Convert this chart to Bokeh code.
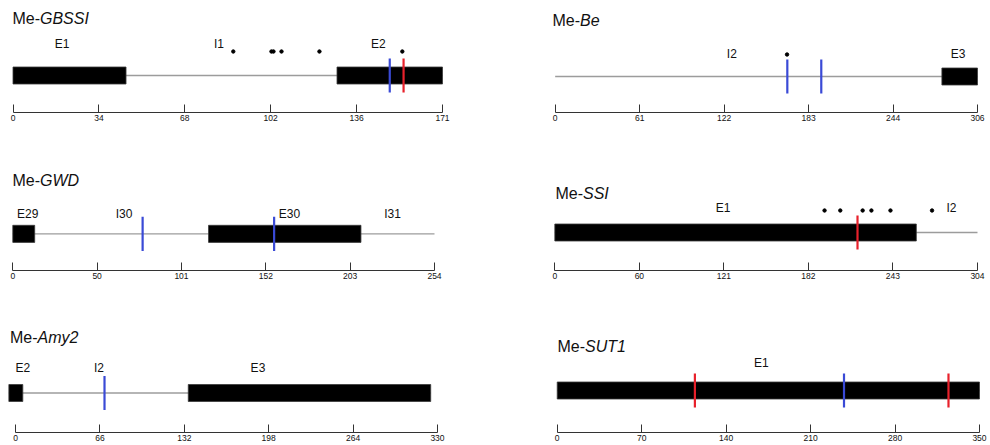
from bokeh.plotting import figure
from bokeh.models import Range1d, LinearAxis, FixedTicker, Label, ColumnDataSource
from bokeh.layouts import column, row
from bokeh.embed import file_html
from bokeh.resources import INLINE
from bokeh.core.properties import value

# ------------------------- data -------------------------
gbssi_length = 171
gbssi_span = [0, 171]
gbssi_exon_start = [0, 129]
gbssi_exon_end = [45, 171]
gbssi_blue = [150]
gbssi_red = [155.5]
gbssi_dots = [87.7, 102.9, 103.7, 106.9, 122, 155]
gbssi_labels = ["E1", "I1", "E2"]
gbssi_label_x = [19.5, 82, 145.5]
gbssi_tick_labels = ["0", "34", "68", "102", "136", "171"]

be_length = 306
be_span = [0, 306]
be_exon_start = [280.2]
be_exon_end = [306]
be_blue = [168.2, 192.8]
be_red = []
be_dots = [168]
be_labels = ["I2", "E3"]
be_label_x = [128, 292]
be_tick_labels = ["0", "61", "122", "183", "244", "306"]

gwd_length = 254
gwd_span = [0, 254]
gwd_exon_start = [0, 117.9]
gwd_exon_end = [13.2, 209.7]
gwd_blue = [78.2, 157.4]
gwd_red = []
gwd_dots = []
gwd_labels = ["E29", "I30", "E30", "I31"]
gwd_label_x = [9, 67, 166.6, 228.7]
gwd_tick_labels = ["0", "50", "101", "152", "203", "254"]

ssi_length = 304
ssi_span = [0, 304]
ssi_exon_start = [0]
ssi_exon_end = [260]
ssi_blue = []
ssi_red = [217.7]
ssi_dots = [194, 205.3, 221.4, 227.7, 241.4, 271.3]
ssi_labels = ["E1", "I2"]
ssi_label_x = [121, 285.3]
ssi_tick_labels = ["0", "60", "121", "182", "243", "304"]

amy2_length = 330
amy2_span = [-5.2, 324.7]
amy2_exon_start = [-5.2, 135.1]
amy2_exon_end = [5.7, 324.7]
amy2_blue = [69.6]
amy2_red = []
amy2_dots = []
amy2_labels = ["E2", "I2", "E3"]
amy2_label_x = [5.7, 65.2, 189.6]
amy2_tick_labels = ["0", "66", "132", "198", "264", "330"]

sut1_length = 350
sut1_span = [0, 350]
sut1_exon_start = [0]
sut1_exon_end = [350]
sut1_blue = [237.7]
sut1_red = [114.1, 324.3]
sut1_dots = []
sut1_labels = ["E1"]
sut1_label_x = [169.2]
sut1_tick_labels = ["0", "70", "140", "210", "280", "350"]

# ------------------------- layout (screen px) -------------------------
FONT = "Liberation Sans"
BLUE = "#3a4ad6"
RED = "#e8212b"
TRACK = "#9c9c9c"

layout_cfg = {
    "GBSSI": dict(fig_left=0, fig_top=0, w=508, h=150, ax0=12.5, ax1=442.0,
                  title_x=12, title_y=18, label_y=43, dot_y=51, track_y=75, axis_y=112),
    "Be": dict(fig_left=508, fig_top=0, w=482, h=150, ax0=554.7, ax1=977.3,
               title_x=552, title_y=20, label_y=53, dot_y=54, track_y=76, axis_y=112),
    "GWD": dict(fig_left=0, fig_top=150, w=508, h=148, ax0=12.3, ax1=434.5,
                title_x=12, title_y=180, label_y=213, dot_y=213, track_y=233, axis_y=269.5),
    "SSI": dict(fig_left=508, fig_top=150, w=482, h=148, ax0=554.3, ax1=976.7,
                title_x=555, title_y=193, label_y=207, dot_y=210, track_y=232, axis_y=270),
    "Amy2": dict(fig_left=0, fig_top=298, w=508, h=147, ax0=15.0, ax1=436.7,
                 title_x=9.5, title_y=337, label_y=367, dot_y=367, track_y=392.5, axis_y=432),
    "SUT1": dict(fig_left=508, fig_top=298, w=482, h=147, ax0=556.7, ax1=978.7,
                 title_x=557, title_y=346, label_y=362, dot_y=362, track_y=390, axis_y=432),
}

genes = {
    "GBSSI": (gbssi_length, gbssi_span, gbssi_exon_start, gbssi_exon_end, gbssi_blue, gbssi_red,
              gbssi_dots, gbssi_labels, gbssi_label_x, gbssi_tick_labels),
    "Be": (be_length, be_span, be_exon_start, be_exon_end, be_blue, be_red,
           be_dots, be_labels, be_label_x, be_tick_labels),
    "GWD": (gwd_length, gwd_span, gwd_exon_start, gwd_exon_end, gwd_blue, gwd_red,
            gwd_dots, gwd_labels, gwd_label_x, gwd_tick_labels),
    "SSI": (ssi_length, ssi_span, ssi_exon_start, ssi_exon_end, ssi_blue, ssi_red,
            ssi_dots, ssi_labels, ssi_label_x, ssi_tick_labels),
    "Amy2": (amy2_length, amy2_span, amy2_exon_start, amy2_exon_end, amy2_blue, amy2_red,
             amy2_dots, amy2_labels, amy2_label_x, amy2_tick_labels),
    "SUT1": (sut1_length, sut1_span, sut1_exon_start, sut1_exon_end, sut1_blue, sut1_red,
             sut1_dots, sut1_labels, sut1_label_x, sut1_tick_labels),
}

BOX_HALF = 8.5
MARK_HALF = 17


def make_panel(name):
    length, span, ex_s, ex_e, blue, red, dots, labels, label_x, tick_labels = genes[name]
    c = layout_cfg[name]
    scale = (c["ax1"] - c["ax0"]) / length
    x_start = (c["fig_left"] - c["ax0"]) / scale
    frame_right = c["ax1"] + 6
    x_end = (frame_right - c["ax0"]) / scale
    frame_w = frame_right - c["fig_left"]
    frame_h = c["axis_y"] - c["fig_top"]

    p = figure(width=c["w"], height=c["h"], output_backend="svg", toolbar_location=None,
               x_axis_type=None, y_axis_type=None,
               x_range=Range1d(x_start, x_end),
               y_range=Range1d(c["axis_y"], c["fig_top"]),
               min_border_left=0, min_border_top=0,
               min_border_right=int(round(c["w"] - frame_w)),
               min_border_bottom=int(round(c["h"] - frame_h)))
    p.outline_line_color = None
    p.title.visible = False

    ty = c["track_y"]
    # intron / track line
    p.segment(x0=[span[0]], x1=[span[1]], y0=[ty], y1=[ty], line_color=TRACK, line_width=1.3)
    # exons
    p.quad(left=ex_s, right=ex_e, bottom=[ty + BOX_HALF] * len(ex_s), top=[ty - BOX_HALF] * len(ex_s),
           fill_color="black", line_color="#3a3a3a", line_width=0.8)
    # variant marks
    if blue:
        p.segment(x0=blue, x1=blue, y0=[ty - MARK_HALF] * len(blue), y1=[ty + MARK_HALF] * len(blue),
                  line_color=BLUE, line_width=2.2)
    if red:
        p.segment(x0=red, x1=red, y0=[ty - MARK_HALF] * len(red), y1=[ty + MARK_HALF] * len(red),
                  line_color=RED, line_width=2.2)
    if dots:
        p.scatter(x=dots, y=[c["dot_y"]] * len(dots), size=3.4, marker="circle",
                  fill_color="black", line_color="black")
    # region labels
    src = ColumnDataSource(dict(x=label_x, y=[c["label_y"]] * len(label_x), t=labels))
    p.text(x="x", y="y", text="t", source=src, text_align="center", text_baseline="middle",
           text_font=value(FONT), text_font_size="12px", text_color="#111111")
    # title: "Me-" regular + gene name italic
    tx = (c["title_x"] - c["ax0"]) / scale
    p.add_layout(Label(x=tx, y=c["title_y"], text="Me-", text_font=FONT, text_font_size="16px",
                       text_baseline="middle", text_align="left", text_color="#111111"))
    p.add_layout(Label(x=tx, y=c["title_y"], x_offset=27.5, text=name, text_font=FONT,
                       text_font_size="16px", text_font_style="italic",
                       text_baseline="middle", text_align="left", text_color="#111111"))
    # axis
    ticks = [length * i / 5 for i in range(6)]
    ax = LinearAxis(ticker=FixedTicker(ticks=ticks), bounds=(0, length),
                    major_label_overrides={t: l for t, l in zip(ticks, tick_labels)})
    ax.axis_line_color = "#333333"
    ax.axis_line_width = 1
    ax.major_tick_line_color = "#333333"
    ax.major_tick_in = 8
    ax.major_tick_out = 0
    ax.minor_tick_line_color = None
    ax.major_label_text_font = FONT
    ax.major_label_text_font_size = "8.5px"
    ax.major_label_text_color = "#111111"
    ax.major_label_standoff = 2
    p.add_layout(ax, "below")
    return p


grid = column(
    row(make_panel("GBSSI"), make_panel("Be")),
    row(make_panel("GWD"), make_panel("SSI")),
    row(make_panel("Amy2"), make_panel("SUT1")),
)

open("out.html", "w").write(file_html(grid, INLINE))
